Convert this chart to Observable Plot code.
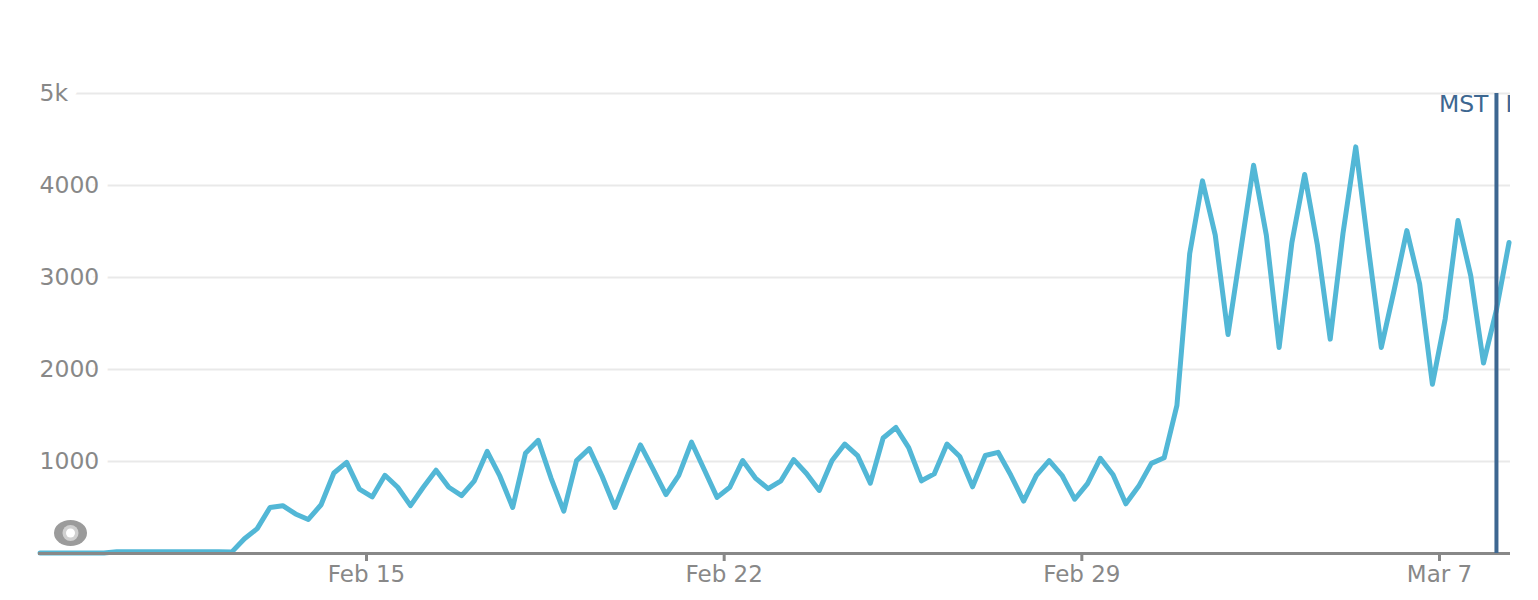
<!DOCTYPE html>
<html><head><meta charset="utf-8">
<script src="https://cdn.jsdelivr.net/npm/d3@7"></script>
<script src="https://cdn.jsdelivr.net/npm/@observablehq/plot@0.6"></script>
<style>
body{margin:0;background:#fff;}
#chart{position:relative;width:1538px;height:600px;}
#eye{position:absolute;left:53px;top:519px;}
</style></head><body>
<div id="chart"></div>
<script>
// Data: one value every 6 hours starting at startTime
const startTime = "2024-02-08T14:40:00Z";
const stepHours = 6;
const values = [
  5,5,5,5,5,5, 18,18,18,20,20,20,18,18,18, 15,
  160,270,500,520,430,370,530,875,990,700,
  615,850,720,520,720,905,720,630,790,1110,
  840,500,1090,1230,820,460,1010,1140,840,500,
  850,1180,915,640,850,1210,910,610,720,1010,
  820,705,790,1020,870,685,1010,1190,1065,765,
  1255,1370,1150,790,865,1190,1055,725,1065,1100,
  850,570,850,1010,850,590,760,1035,855,540,
  730,980,1040,1610,3260,4050,3460,2380,3300,4220,
  3460,2240,3380,4120,3350,2330,3480,4420,3310,2240,
  2860,3510,2930,1840,2550,3620,3020,2070,2640,3380
];
const xDomain = ["2024-02-08T13:56:00Z", "2024-03-08T09:21:00Z"];
const yDomain = [0, 5000];
const yTicks = [1000, 2000, 3000, 4000, 5000];
const yTickLabels = ["1000", "2000", "3000", "4000", "5k"];
const xTicks = ["2024-02-15", "2024-02-22", "2024-02-29", "2024-03-07"];
const xTickLabels = ["Feb 15", "Feb 22", "Feb 29", "Mar 7"];
const tzChange = ["2024-03-08T02:45:00Z"];
const tzLabelBefore = "MST";
const tzLabelAfter = "MDT";

const t0 = +new Date(startTime);
const data = values.map((v, i) => ({t: new Date(t0 + i * stepHours * 3600e3), v}));
const xTickDates = xTicks.map(d => new Date(d));
const tzDates = tzChange.map(d => new Date(d));
const yLab = yTicks.map((d, i) => ({v: d, label: yTickLabels[i]}));

const plot = Plot.plot({
  width: 1538, height: 600,
  marginLeft: 38, marginRight: 28, marginTop: 93, marginBottom: 47,
  style: {fontFamily: "DejaVu Sans", background: "white"},
  x: {type: "utc", domain: xDomain.map(d => new Date(d))},
  y: {domain: yDomain},
  marks: [
    Plot.gridY(yTicks, {stroke: "#e9e9e9", strokeOpacity: 1, strokeWidth: 2}),
    Plot.text(yLab, {y: "v", text: "label", frameAnchor: "left", textAnchor: "start", dx: 1,
      fontSize: 23.5, fill: "#888", stroke: "white", strokeWidth: 20, strokeLinejoin: "round", paintOrder: "stroke"}),
    Plot.lineY(data, {x: "t", y: "v", stroke: "#52b7d6", strokeWidth: 5,
      strokeLinejoin: "round", strokeLinecap: "round"}),
    Plot.ruleY([0], {stroke: "#888", strokeWidth: 3}),
    Plot.axisX(xTickDates, {tickSize: 8, tickPadding: 4, fontSize: 23, color: "#888",
      strokeWidth: 3, label: null,
      tickFormat: d => xTickLabels[xTickDates.findIndex(e => +e === +d)]}),
    Plot.axisY({ticks: [], label: null}),
    Plot.ruleX(tzDates, {stroke: "#3d6791", strokeWidth: 4}),
    Plot.text(tzDates, {x: d => d, frameAnchor: "top", text: () => tzLabelBefore, textAnchor: "end",
      lineAnchor: "top", dx: -8, dy: 2, fontSize: 23.5, fill: "#3d6791"}),
    Plot.text(tzDates, {x: d => d, frameAnchor: "top", text: () => tzLabelAfter, textAnchor: "start",
      lineAnchor: "top", dx: 9, dy: 2, fontSize: 23.5, fill: "#3d6791", clip: true})
  ]
});
const chart = document.getElementById("chart");
chart.appendChild(plot);
chart.insertAdjacentHTML("beforeend",
  '<svg id="eye" width="35" height="28"><ellipse cx="17.5" cy="14" rx="16.5" ry="13" fill="#9b9b9b"/><circle cx="17.5" cy="14" r="8" fill="#d0d0d0"/><circle cx="17.5" cy="14" r="4.5" fill="#fff"/></svg>');
</script>
</body></html>
